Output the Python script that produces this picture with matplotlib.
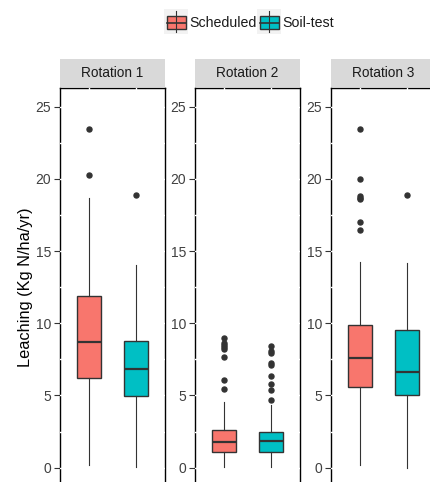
import matplotlib.pyplot as plt
from matplotlib.patches import Rectangle
from matplotlib.lines import Line2D

plt.rcParams['font.family'] = ['Liberation Sans', 'DejaVu Sans']

rotations = ['Rotation 1', 'Rotation 2', 'Rotation 3']
groups = ['Scheduled', 'Soil-test']
colors = ['#F8766D', '#00BFC4']

# box stats per rotation: [whislo, q1, med, q3, whishi]
sched_stats = [
    [0.19, 6.21, 8.68, 11.87, 18.65],
    [0.07, 1.09, 1.78, 2.59, 4.57],
    [0.19, 5.59, 7.62, 9.88, 14.27],
]
soil_stats = [
    [0.07, 4.97, 6.81, 8.80, 14.02],
    [0.07, 1.09, 1.87, 2.45, 4.34],
    [0.00, 5.06, 6.65, 9.51, 14.20],
]
sched_out = [
    [23.43, 20.29],
    [9.00, 8.66, 8.50, 8.38, 8.22, 7.69, 6.07, 5.43],
    [23.43, 19.97, 18.84, 18.70, 18.61, 16.99, 16.44],
]
soil_out = [
    [18.86],
    [8.45, 8.10, 7.92, 7.23, 7.11, 6.37, 5.77, 5.38, 4.69],
    [18.86],
]
yticks = [0, 5, 10, 15, 20, 25]
ygrid = [0, 2.5, 5, 7.5, 10, 12.5, 15, 17.5, 20, 22.5, 25]

W, H = 431, 482
fig = plt.figure(figsize=(W / 100, H / 100), dpi=100)


def fx(x):
    return x / W


def fy(y):
    return 1 - y / H


panel_left = [60, 195, 331]
panel_w = 105
panel_top = 88

for i, name in enumerate(rotations):
    ax = fig.add_axes([fx(panel_left[i]), 0, panel_w / W, (H - panel_top) / H])
    stats = []
    for s, o in ((sched_stats[i], sched_out[i]), (soil_stats[i], soil_out[i])):
        stats.append(dict(whislo=s[0], q1=s[1], med=s[2], q3=s[3], whishi=s[4], fliers=o))
    bp = ax.bxp(stats, positions=[1, 2], widths=0.5, patch_artist=True, showcaps=False,
                boxprops=dict(edgecolor='#333333', linewidth=1.0),
                medianprops=dict(color='#333333', linewidth=1.6),
                whiskerprops=dict(color='#333333', linewidth=0.8),
                flierprops=dict(marker='o', markerfacecolor='#333333', markeredgecolor='#333333',
                                markersize=3.6, linestyle='none'))
    for patch, c in zip(bp['boxes'], colors):
        patch.set_facecolor(c)
        patch.set_zorder(3)
    for key in ('medians', 'whiskers', 'fliers'):
        for art in bp[key]:
            art.set_zorder(3.5)

    ax.set_xlim(0.4, 2.6)
    ax.set_ylim(-0.99, 26.29)
    ax.set_yticks(yticks)
    ax.tick_params(axis='y', length=4.3, width=0.8, color='#333333',
                   labelsize=10, labelcolor='#404040', pad=2)
    ax.set_xticks([])
    for side in ('left', 'right', 'top'):
        ax.spines[side].set_linewidth(1.0)
        ax.spines[side].set_color('black')
    ax.spines['bottom'].set_visible(False)
    # white grid lines (only visible where they cut the panel border)
    for g in ygrid:
        ax.axhline(g, color='white', linewidth=1.0, zorder=2.6)
    for g in (1, 2):
        ax.axvline(g, color='white', linewidth=1.0, zorder=2.6)

    # facet strip
    fig.patches.append(Rectangle((fx(panel_left[i]), fy(87)), panel_w / W, 28 / H,
                                 transform=fig.transFigure, facecolor='#D9D9D9',
                                 edgecolor='none'))
    fig.text(fx(panel_left[i] + panel_w / 2), fy(73), name, ha='center', va='center',
             fontsize=9.8, color='#1A1A1A')

fig.text(fx(26), fy(287), 'Leaching (Kg N/ha/yr)', rotation=90, ha='center', va='center',
         fontsize=11.8, color='black')

# legend
key_x = [164, 257]
text_x = [189, 282]
for kx, tx, c, g in zip(key_x, text_x, colors, groups):
    fig.patches.append(Rectangle((fx(kx), fy(34)), 24 / W, 25 / H, transform=fig.transFigure,
                                 facecolor='#F2F2F2', edgecolor='none'))
    fig.lines.append(Line2D([fx(kx + 12), fx(kx + 12)], [fy(11), fy(32)],
                            transform=fig.transFigure, color='#333333', linewidth=0.8))
    fig.patches.append(Rectangle((fx(kx + 3), fy(29)), 19 / W, 13 / H, transform=fig.transFigure,
                                 facecolor=c, edgecolor='#333333', linewidth=1.0))
    fig.lines.append(Line2D([fx(kx + 3), fx(kx + 22)], [fy(22.7), fy(22.7)],
                            transform=fig.transFigure, color='#333333', linewidth=1.2))
    fig.text(fx(tx), fy(23), g, ha='left', va='center', fontsize=10.2, color='#1A1A1A')

fig.savefig('out.png', dpi=100)
